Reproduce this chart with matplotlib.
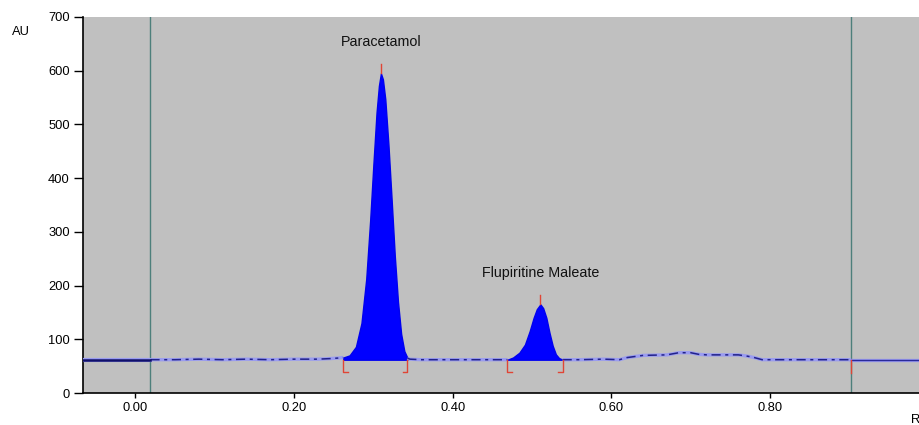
import matplotlib
matplotlib.use("Agg")
import matplotlib.pyplot as plt
import numpy as np

plt.rcParams['font.family'] = ['Liberation Sans', 'DejaVu Sans']

# ---- data ----
baseline = 62
front_rf = 0.019
solvent_front_rf = 0.902

left_rf = [-0.066, 0.019]
left_au = [62, 62]

trace_rf = [0.019, 0.05, 0.08, 0.11, 0.14, 0.17, 0.20, 0.23, 0.245, 0.255,
            0.262, 0.270, 0.278, 0.285, 0.291, 0.296, 0.300, 0.304, 0.307, 0.3095,
            0.312, 0.315, 0.319, 0.323, 0.327, 0.331, 0.335, 0.339, 0.343, 0.346,
            0.36, 0.39, 0.42, 0.45, 0.469,
            0.476, 0.484, 0.491, 0.497, 0.502, 0.506, 0.5105, 0.514, 0.518, 0.522,
            0.526, 0.530, 0.534, 0.5385,
            0.56, 0.59, 0.61, 0.62, 0.64, 0.67, 0.685, 0.70, 0.71, 0.72,
            0.76, 0.77, 0.78, 0.79, 0.82, 0.86, 0.902]
trace_au = [62, 62, 63, 62, 63, 62, 63, 63, 64, 65,
            66, 70, 86, 130, 212, 322, 425, 522, 572, 595,
            584, 547, 462, 360, 255, 170, 110, 78, 65, 63,
            62, 62, 62, 62, 62,
            66, 75, 90, 115, 140, 156, 165, 158, 140, 112,
            88, 72, 65, 62,
            62, 63, 62, 66, 70, 71, 75, 75, 72, 71,
            71, 69, 66, 62, 62, 62, 62]

right_rf = [0.902, 0.989]
right_au = [61, 61]

peak_names = ["Paracetamol", "Flupiritine Maleate"]
peak_apex_rf = [0.3095, 0.5105]
peak_apex_au = [595, 165]
peak_start_rf = [0.262, 0.469]
peak_end_rf = [0.343, 0.5385]

x_ticks = [0.0, 0.2, 0.4, 0.6, 0.8]
y_ticks = [0, 100, 200, 300, 400, 500, 600, 700]

# ---- figure ----
fig = plt.figure(figsize=(9.2, 4.25), dpi=100)
ax = fig.add_axes([83/920, 32/425, 1 - 83/920, (393-17)/425])
ax.set_facecolor('#c0c0c0')

ax.set_xlim(-0.066, 0.989)
ax.set_ylim(0, 700)

# vertical markers
for xv in [front_rf, solvent_front_rf]:
    ax.axvline(xv, color='#4d7f7b', lw=1.0, zorder=2)

trx = np.array(trace_rf)
tra = np.array(trace_au, dtype=float)

# peak fills
in_peak = np.zeros(len(trx), dtype=bool)
for s, e in zip(peak_start_rf, peak_end_rf):
    m = (trx >= s - 1e-9) & (trx <= e + 1e-9)
    in_peak |= (trx > s + 1e-9) & (trx < e - 1e-9)
    ax.fill_between(trx[m], baseline, tra[m], color='#0000ff', lw=1.0,
                    edgecolor='#0000f0', zorder=3)

# trace (light halo everywhere, dark dashed only along the baseline parts)
base_only = np.where(in_peak, np.nan, tra)
ax.plot(trx, base_only, color='#9a9cf0', lw=2.4, zorder=3, solid_capstyle='butt')
ax.plot(trx, base_only, color='#22228a', lw=1.1, zorder=4, dashes=(6, 3, 2, 3))
ax.plot(left_rf, left_au, color='#9a9cf0', lw=3.0, zorder=3)
ax.plot(left_rf, left_au, color='#10106a', lw=1.8, zorder=4)
ax.plot(right_rf, right_au, color='#9a9cf0', lw=2.4, zorder=3)
ax.plot(right_rf, right_au, color='#2a2a9a', lw=1.0, zorder=4)

# integration brackets
red = '#e04535'
foot = 0.006
low = 39
for s, e in zip(peak_start_rf, peak_end_rf):
    ax.plot([s, s, s + foot], [baseline, low, low], color=red, lw=1.0, zorder=5)
    ax.plot([e, e, e - foot], [baseline, low, low], color=red, lw=1.0, zorder=5)
ax.plot([solvent_front_rf, solvent_front_rf], [baseline, 37], color=red, lw=1.0, zorder=5)

# apex ticks and labels
for name, xr, ya in zip(peak_names, peak_apex_rf, peak_apex_au):
    ax.plot([xr, xr], [ya, ya + 18], color=red, lw=1.0, zorder=5)
    ax.text(xr, ya + 45, name, ha='center', va='bottom', fontsize=10.3, color='#111111')

# axes styling
for sp in ['top', 'right']:
    ax.spines[sp].set_visible(False)
for sp in ['left', 'bottom']:
    ax.spines[sp].set_linewidth(1.2)
    ax.spines[sp].set_color('black')
ax.set_xticks(x_ticks)
ax.set_xticklabels([f"{v:.2f}" for v in x_ticks])
ax.set_yticks(y_ticks)
ax.set_yticklabels([str(v) for v in y_ticks])
ax.tick_params(axis='y', direction='out', length=6.5, width=1.0, labelsize=9.3, pad=3)
ax.tick_params(axis='x', direction='out', length=3.5, width=1.0, labelsize=9.3, pad=3)

fig.text(12/920, 1 - 32/425, "AU", fontsize=9.3, ha='left', va='center')
fig.text(911/920, 1 - 420/425, "Rf", fontsize=9.3, ha='left', va='center')

fig.savefig('out.png', dpi=100)
